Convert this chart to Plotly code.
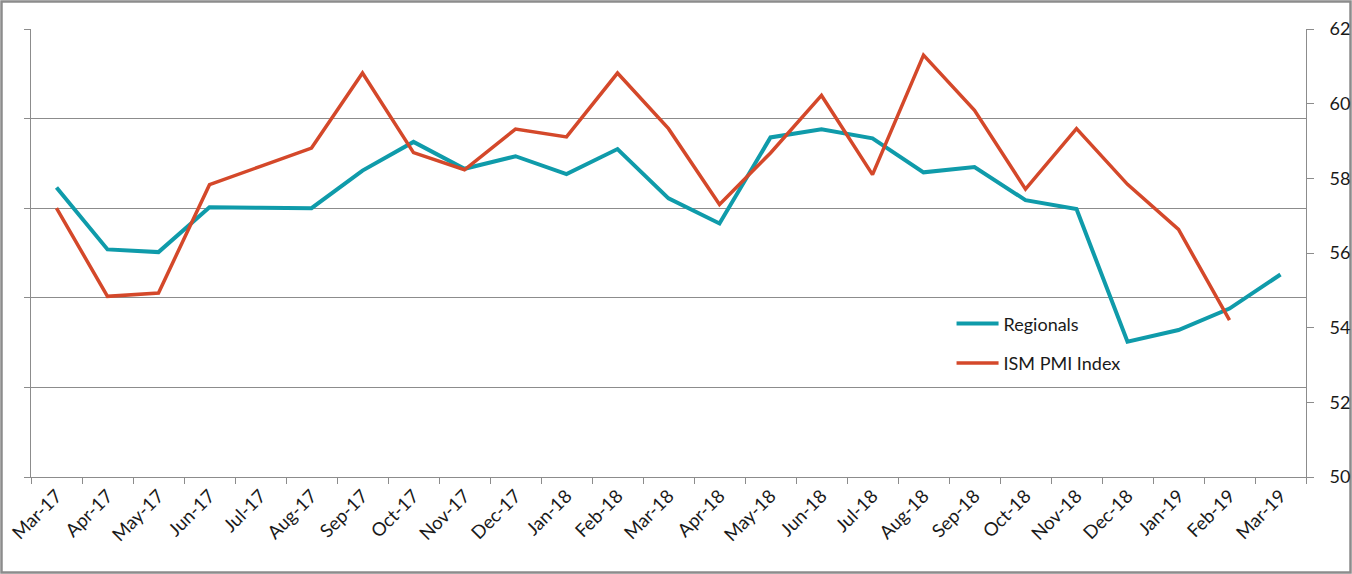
import plotly.graph_objects as go

months = ["Mar-17", "Apr-17", "May-17", "Jun-17", "Jul-17", "Aug-17", "Sep-17", "Oct-17",
          "Nov-17", "Dec-17", "Jan-18", "Feb-18", "Mar-18", "Apr-18", "May-18", "Jun-18",
          "Jul-18", "Aug-18", "Sep-18", "Oct-18", "Nov-18", "Dec-18", "Jan-19", "Feb-19", "Mar-19"]

# Regionals composite (left, unlabeled axis)
regionals = [22.3, 15.4, 15.1, 20.1, 20.05, 20.0, 24.2, 27.4, 24.4, 25.8, 23.8, 26.6, 21.1,
             18.3, 27.9, 28.8, 27.8, 24.0, 24.6, 20.9, 19.9, 5.1, 6.4, 8.8, 12.6]

# ISM PMI Index (right axis)
ism = [57.2, 54.84, 54.93, 57.83, 58.32, 58.81, 60.82, 58.69, 58.23, 59.32, 59.11, 60.82, 59.33,
       57.30, 58.68, 60.22, 58.10, 61.30, 59.82, 57.71, 59.33, 57.84, 56.63, 54.2, None]

left_range = [-10, 40]
left_dtick = 10
right_range = [50, 62]
right_dtick = 2

TEAL = "#0F9BAA"
RED = "#D4482A"
GRID = "#8C8C8C"
FONT = "Lato"

W, H = 1352, 574
ML, MR, MT, MB = 31, 46, 29, 97

fig = go.Figure()
fig.add_trace(go.Scatter(x=months, y=regionals, name="Regionals", mode="lines",
                         line=dict(color=TEAL, width=4), legendgroup="a", yaxis="y"))
fig.add_trace(go.Scatter(x=months, y=ism, name="ISM PMI Index", mode="lines",
                         line=dict(color=RED, width=3.5), legendgroup="b", yaxis="y2"))

pw = W - ML - MR
ph = H - MT - MB
fig.add_shape(type="rect", xref="paper", yref="paper",
              x0=-(ML - 1.5) / pw, x1=1 + (MR - 1.5) / pw,
              y0=-(MB - 1.5) / ph, y1=1 + (MT - 1.5) / ph,
              line=dict(color="#8C8C8C", width=2.5), layer="below")

fig.update_layout(
    width=W, height=H,
    margin=dict(l=ML, r=MR, t=MT, b=MB, pad=0, autoexpand=False),
    paper_bgcolor="white", plot_bgcolor="white",
    font=dict(family=FONT, size=18, color="#1a1a1a"),
    showlegend=True,
    legend=dict(x=0.722, y=0.383, xanchor="left", yanchor="top",
                bgcolor="rgba(0,0,0,0)", font=dict(size=18, family=FONT),
                tracegroupgap=13, itemwidth=42),
    xaxis=dict(type="category", tickangle=-45, tickson="boundaries", ticks="outside",
               ticklen=6, tickcolor=GRID, showline=True, linecolor=GRID, linewidth=1,
               showgrid=False, tickfont=dict(size=18.5), range=[-0.5, len(months) - 0.5]),
    yaxis=dict(range=left_range, dtick=left_dtick, showgrid=True, gridcolor=GRID, gridwidth=1,
               showline=True, linecolor=GRID, linewidth=1, ticks="outside", ticklen=6,
               tickcolor=GRID, showticklabels=False, zeroline=False),
    yaxis2=dict(range=right_range, dtick=right_dtick, overlaying="y", side="right",
                showgrid=False, showline=True, linecolor=GRID, linewidth=1, ticks="outside",
                ticklen=7, tickcolor=GRID, zeroline=False, tickfont=dict(size=18),
                ticklabelstandoff=12),
)

fig.write_html("out.html", config={"displayModeBar": False},
               post_script="document.body.style.margin='0';document.body.style.overflow='hidden';")
